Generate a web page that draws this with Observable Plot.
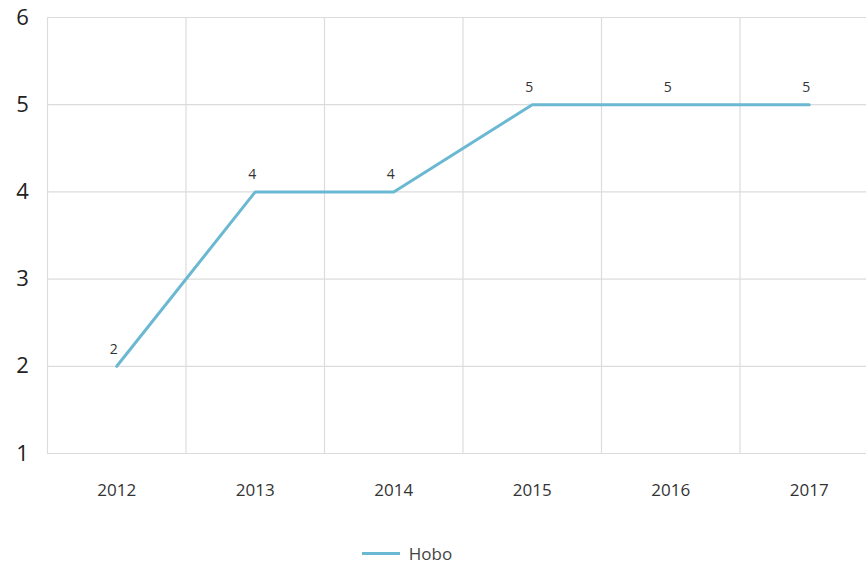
<!DOCTYPE html>
<html>
<head>
<meta charset="utf-8">
<script src="https://cdn.jsdelivr.net/npm/d3@7"></script>
<script src="https://cdn.jsdelivr.net/npm/@observablehq/plot@0.6"></script>
<style>
  html, body { margin: 0; padding: 0; background: #fff; }
  body { width: 866px; height: 565px; overflow: hidden; font-family: "Open Sans", "Noto Sans", sans-serif; }
  #legend { position: relative; top: 8px; height: 30px; display: flex; justify-content: center; align-items: center; gap: 9px; color: #444; font-size: 17px; margin-left: -52px; }
  #legend .sw { width: 38px; height: 3px; background: #6bb8d2; }
</style>
</head>
<body>
<div id="chart"></div>
<div id="legend"><span class="sw"></span><span>Hobo</span></div>
<script>
const years = [2012, 2013, 2014, 2015, 2016, 2017];
const hobo = [2, 4, 4, 5, 5, 5];
const yTicks = [1, 2, 3, 4, 5, 6];
const seriesName = "Hobo";

const data = years.map((y, i) => ({year: y, value: hobo[i]}));
const boundaries = years.map(y => y - 0.5);

const chart = Plot.plot({
  width: 866,
  height: 530,
  marginLeft: 47,
  marginRight: 0,
  marginTop: 17,
  marginBottom: 77,
  style: {fontFamily: "'Open Sans', 'Noto Sans', sans-serif", background: "#fff", color: "#333"},
  x: {type: "linear", domain: [years[0] - 0.5, years[years.length - 1] + 0.5], range: [47, 878], label: null},
  y: {domain: [1, 6], label: null},
  marks: [
    Plot.ruleY(yTicks, {stroke: "#dcdcdc", strokeWidth: 1.2}),
    Plot.ruleX(boundaries, {stroke: "#dcdcdc", strokeWidth: 1.2}),
    Plot.axisY(yTicks, {label: null, tickSize: 0, tickPadding: 25, textAnchor: "middle", fontSize: 22, fill: "#222", tickFormat: d => String(d)}),
    Plot.axisX(years, {label: null, tickSize: 0, tickPadding: 30, fontSize: 17, fill: "#333", tickFormat: d => String(d)}),
    Plot.line(data, {x: "year", y: "value", stroke: "#6bb8d2", strokeWidth: 3}),
    Plot.text(data, {x: "year", y: "value", text: d => String(d.value), dy: -17, dx: -3, fontSize: 14, fill: "#333"})
  ]
});
document.getElementById("chart").appendChild(chart);
</script>
</body>
</html>
